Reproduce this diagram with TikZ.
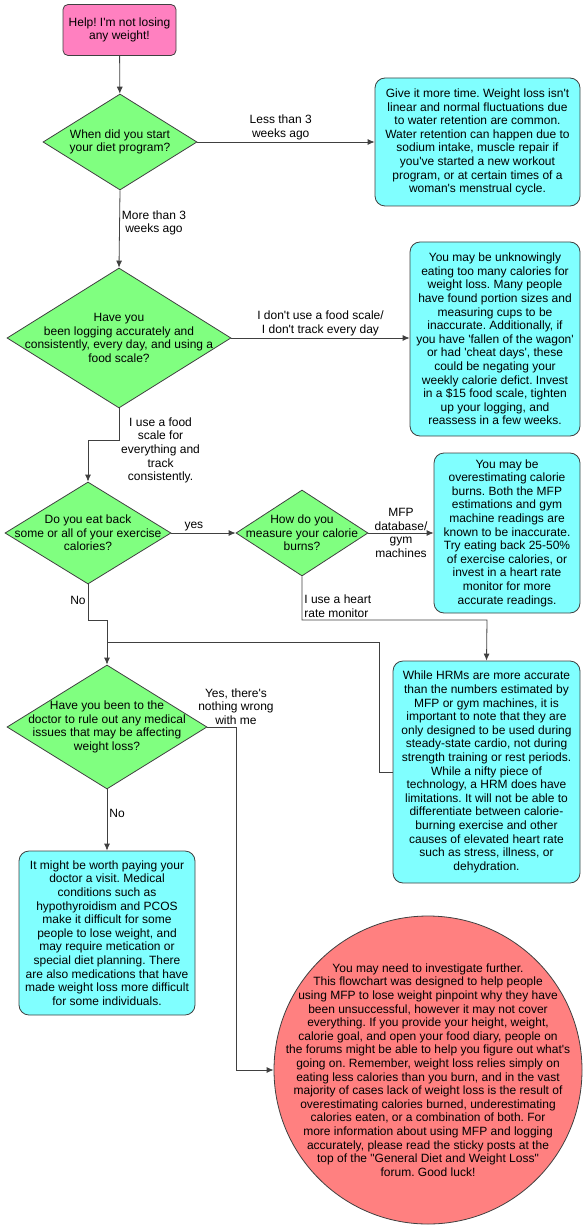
\documentclass[tikz,border=0pt]{standalone}
\usepackage{fontspec}
\setmainfont{Liberation Sans}[Ligatures=TeXOff]
\frenchspacing
\usetikzlibrary{shapes.geometric,arrows.meta}
\definecolor{startpink}{HTML}{FF80C0}
\definecolor{askgreen}{HTML}{80FF80}
\definecolor{tipcyan}{HTML}{80FFFF}
\definecolor{endred}{HTML}{FF8080}
\definecolor{edgegray}{HTML}{404040}
\tikzset{
  txt/.style={font=\fontsize{12}{13.6}\selectfont},
  startbox/.style={txt,draw=edgegray,fill=startpink,rounded corners=5pt,align=center,inner sep=0pt,line width=0.8pt},
  question/.style={diamond,draw=edgegray,fill=askgreen,inner sep=0pt,line width=0.8pt},
  advice/.style={txt,draw=edgegray,fill=tipcyan,rounded corners=10pt,align=center,inner sep=0pt,line width=0.8pt},
  flow/.style={draw=edgegray,line width=0.8pt,-{Latex[length=7pt,width=6pt]}},
  plain/.style={draw=edgegray,line width=0.8pt},
  tag/.style={txt,align=center,inner sep=2pt}
}

\begin{document}
\begin{tikzpicture}[x=1pt,y=-1pt]
\useasboundingbox (0,0) rectangle (586,1230);
% questions
\node[startbox,minimum width=113pt,minimum height=51pt] (start) at (119.5,30) {Help! I'm not losing\\any weight!};
\node[question,minimum width=154pt,minimum height=96pt,label={[txt,align=center]center:When did you start\\your diet program?}] (d1) at (120,142) {};
\node[question,minimum width=224pt,minimum height=140pt,label={[txt,align=center]center:Have you\\been logging accurately and\\consistently, every day, and using a\\food scale?}] (d2) at (119,338) {};
\node[question,minimum width=166pt,minimum height=102pt,label={[txt,align=center]center:Do you eat back\\some or all of your exercise\\calories?}] (d3) at (88,533) {};
\node[question,minimum width=132pt,minimum height=86pt,label={[txt,align=center]center:How do you\\measure your calorie\\burns?}] (d4) at (302,533) {};
\node[question,minimum width=200pt,minimum height=124pt,label={[txt,align=center]center:Have you been to the\\doctor to rule out any medical\\issues that may be affecting\\weight loss?}] (d5) at (107,727) {};

% answers
\node[advice,minimum width=205pt,minimum height=128pt] (box1) at (477.5,142) {Give it more time. Weight loss isn't\\linear and normal fluctuations due\\to water retention are common.\\Water retention can happen due to\\sodium intake, muscle repair if\\you've started a new workout\\program, or at certain times of a\\woman's menstrual cycle.};
\node[advice,minimum width=170pt,minimum height=194pt] (box2) at (495,339) {You may be unknowingly\\eating too many calories for\\weight loss. Many people\\have found portion sizes and\\measuring cups to be\\inaccurate. Additionally, if\\you have 'fallen of the wagon'\\or had 'cheat days', these\\could be negating your\\weekly calorie defict. Invest\\in a \$15 food scale, tighten\\up your logging, and\\reassess in a few weeks.};
\node[advice,minimum width=146pt,minimum height=160pt] (box3) at (507,533) {You may be\\overestimating calorie\\burns. Both the MFP\\estimations and gym\\machine readings are\\known to be inaccurate.\\Try eating back 25-50\%\\of exercise calories, or\\invest in a heart rate\\monitor for more\\accurate readings.};
\node[advice,minimum width=187pt,minimum height=222pt] (box4) at (486.5,772) {While HRMs are more accurate\\than the numbers estimated by\\MFP or gym machines, it is\\important to note that they are\\only designed to be used during\\steady-state cardio, not during\\strength training or rest periods.\\While a nifty piece of\\technology, a HRM does have\\limitations. It will not be able to\\differentiate between calorie-\\burning exercise and other\\causes of elevated heart rate\\such as stress, illness, or\\dehydration.};
\node[advice,minimum width=176pt,minimum height=164pt] (box5) at (107,933) {It might be worth paying your\\doctor a visit. Medical\\conditions such as\\hypothyroidism and PCOS\\make it difficult for some\\people to lose weight, and\\may require metication or\\special diet planning. There\\are also medications that have\\made weight loss more difficult\\for some individuals.};
\node[circle,draw=edgegray,fill=endred,line width=0.8pt,minimum size=308pt,inner sep=0pt,label={[txt,align=center]center:You may need to investigate further.\\This flowchart was designed to help people\\using MFP to lose weight pinpoint why they have\\been unsuccessful, however it may not cover\\everything. If you provide your height, weight,\\calorie goal, and open your food diary, people on\\the forums might be able to help you figure out what's\\going on. Remember, weight loss relies simply on\\eating less calories than you burn, and in the vast\\majority of cases lack of weight loss is the result of\\overestimating calories burned, underestimating\\calories eaten, or a combination of both. For\\more information about using MFP and logging\\accurately, please read the sticky posts at the\\top of the "General Diet and Weight Loss"\\forum. Good luck!}] (fin) at (428,1070) {};

% connectors
\coordinate (scalejog) at (88,440);
\coordinate (nojog) at (107,620);
\coordinate (hrmjog) at (487,620);
\coordinate (hrmback) at (379,642);
\coordinate (hrmmerge) at (107,642);
\coordinate (okjog) at (236,1070);
\draw[flow] (start) -- (d1);
\draw[flow] (d1.east) -- node[tag,above,pos=0.47]{Less than 3\\weeks ago} (box1.west);
\draw[flow] (d1.south) -- node[tag,right,pos=0.42]{More than 3\\weeks ago} (d2.north);
\draw[flow] (d2.east) -- node[tag,above]{I don't use a food scale/\\I don't track every day} (box2.west |- d2.east);
\draw[flow] (d2.south) |- (scalejog) -- (d3.north);
\node[tag,anchor=north west,yshift=-7pt] (scaletag) at (d2.south) {I use a food\\scale for\\everything and\\track\\consistently.};
\draw[flow] (d3.east) -- node[tag,above,pos=0.35]{yes} (d4.west);
\draw[flow] (d4.east) -- node[tag]{MFP\\database/\\gym\\machines} (box3.west |- d4.east);
\draw[flow] (d4.south) |- node[tag,above right,pos=0.5,align=left]{I use a heart\\rate monitor} (hrmjog) -- (box4.north);
\draw[flow] (d3.south) |- node[tag,left,pos=0.22]{No} (nojog) -- (d5.north);
\draw[plain] (box4.west) -| (hrmback) -- (hrmmerge);
\draw[flow] (d5.east) -| node[tag,above,pos=0.5]{Yes, there's\\nothing wrong\\with me} (okjog) -- (fin.west);
\draw[flow] (d5.south) -- node[tag,right,pos=0.4]{No} (box5.north);
\end{tikzpicture}
\end{document}
